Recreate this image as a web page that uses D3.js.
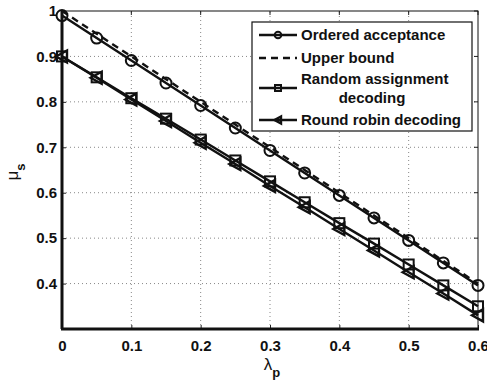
<!DOCTYPE html>
<html lang="en">
<head>
<meta charset="UTF-8">
<title>mu_s vs lambda_p</title>
<style>
    body { margin: 0; background: #fff; }
    svg text { font-family: "Liberation Sans", Arial, sans-serif; font-weight: bold; fill: #111; }
</style>
</head>
<body>
<div id="chart"></div>
<script src="https://cdnjs.cloudflare.com/ajax/libs/d3/7.8.5/d3.min.js"></script>
<script>
// data
const lambdaP = [0, 0.05, 0.1, 0.15, 0.2, 0.25, 0.3, 0.35, 0.4, 0.45, 0.5, 0.55, 0.6];
const orderedAcceptance = [0.99, 0.9405, 0.891, 0.8415, 0.792, 0.7425, 0.693, 0.6435, 0.594, 0.5445, 0.495, 0.4455, 0.396];
const upperBound = [1.0, 0.95, 0.9, 0.85, 0.8, 0.75, 0.7, 0.65, 0.6, 0.55, 0.5, 0.45, 0.4];
const randomAssignment = [0.9, 0.854, 0.808, 0.763, 0.717, 0.671, 0.625, 0.579, 0.533, 0.488, 0.442, 0.396, 0.35];
const roundRobin = [0.9, 0.853, 0.805, 0.758, 0.71, 0.663, 0.615, 0.568, 0.52, 0.473, 0.425, 0.378, 0.33];
const xTicks = [0, 0.1, 0.2, 0.3, 0.4, 0.5, 0.6];
const yTicks = [0.4, 0.5, 0.6, 0.7, 0.8, 0.9, 1];

const W = 487, H = 382;
const m = { left: 62, right: 9, top: 11, bottom: 53 };

const svg = d3.select('#chart').append('svg')
    .attr('width', W).attr('height', H);

const x = d3.scaleLinear().domain([0, 0.6]).range([m.left, W - m.right]);
const y = d3.scaleLinear().domain([0.3, 1]).range([H - m.bottom, m.top]);

// dotted grid
const grid = svg.append('g').attr('stroke', '#888').attr('stroke-width', 1).attr('stroke-dasharray', '1,3');
grid.selectAll('.gx').data(xTicks.slice(1, -1)).enter().append('line')
    .attr('x1', d => x(d)).attr('x2', d => x(d))
    .attr('y1', y(0.3)).attr('y2', y(1));
grid.selectAll('.gy').data(yTicks.slice(0, -1)).enter().append('line')
    .attr('x1', x(0)).attr('x2', x(0.6))
    .attr('y1', d => y(d)).attr('y2', d => y(d));

// axes (ticks inside, box around)
const xAxis = d3.axisBottom(x).tickValues(xTicks).tickSizeInner(-4).tickSizeOuter(0).tickPadding(11)
    .tickFormat(d => d === 0 ? '0' : d3.format('.1f')(d));
const yAxis = d3.axisLeft(y).tickValues(yTicks).tickSizeInner(-4).tickSizeOuter(0).tickPadding(5)
    .tickFormat(d => d === 1 ? '1' : d3.format('.1f')(d));

const gx = svg.append('g').attr('transform', `translate(0,${y(0.3)})`).call(xAxis);
const gy = svg.append('g').attr('transform', `translate(${x(0)},0)`).call(yAxis);
[gx, gy].forEach(g => {
    g.select('.domain').remove();
    g.selectAll('text').style('font-size', '15px').attr('fill', '#111');
    g.selectAll('line').attr('stroke', '#222');
});
gx.selectAll('text').attr('dy', '0.71em');

// top/right ticks
svg.append('g').selectAll('line').data(xTicks).enter().append('line')
    .attr('x1', d => x(d)).attr('x2', d => x(d)).attr('y1', y(1)).attr('y2', y(1) + 4)
    .attr('stroke', '#222');
svg.append('g').selectAll('line').data(yTicks).enter().append('line')
    .attr('x1', x(0.6)).attr('x2', x(0.6) - 4).attr('y1', d => y(d)).attr('y2', d => y(d))
    .attr('stroke', '#222');

// box
svg.append('rect').attr('x', x(0)).attr('y', y(1))
    .attr('width', x(0.6) - x(0)).attr('height', y(0.3) - y(1))
    .attr('fill', 'none').attr('stroke', '#111').attr('stroke-width', 1);
svg.append('line').attr('x1', x(0) - 1).attr('x2', x(0.6) + 1).attr('y1', y(0.3)).attr('y2', y(0.3))
    .attr('stroke', '#111').attr('stroke-width', 3);
svg.append('line').attr('x1', x(0)).attr('x2', x(0)).attr('y1', y(0.3)).attr('y2', y(1))
    .attr('stroke', '#111').attr('stroke-width', 3);

// markers
function marker(g, type, cx, cy, k) {
    k = k || 1;
    if (type === 'circle') {
        g.append('circle').attr('cx', cx).attr('cy', cy).attr('r', 5.5 * k)
            .attr('fill', 'none').attr('stroke', '#111').attr('stroke-width', 2);
    } else if (type === 'square') {
        g.append('rect').attr('x', cx - 5 * k).attr('y', cy - 5 * k).attr('width', 10 * k).attr('height', 10 * k)
            .attr('fill', 'none').attr('stroke', '#111').attr('stroke-width', 2);
    } else if (type === 'tri') {
        g.append('path').attr('d', `M${cx - 6 * k},${cy} L${cx + 5 * k},${cy - 6 * k} L${cx + 5 * k},${cy + 6 * k} Z`)
            .attr('fill', 'none').attr('stroke', '#111').attr('stroke-width', 2.4);
    }
}

const series = [
    { name: 'Ordered acceptance', values: orderedAcceptance, dash: null, mark: 'circle' },
    { name: 'Upper bound', values: upperBound, dash: '7,5', mark: null },
    { name: 'Random assignment', values: randomAssignment, dash: null, mark: 'square' },
    { name: 'Round robin decoding', values: roundRobin, dash: null, mark: 'tri' }
];

const line = d3.line().x(d => x(d[0])).y(d => y(d[1]));
const plot = svg.append('g');
series.forEach(s => {
    const pts = lambdaP.map((l, i) => [l, s.values[i]]);
    plot.append('path').datum(pts).attr('d', line)
        .attr('fill', 'none').attr('stroke', '#111').attr('stroke-width', 2.4)
        .attr('stroke-dasharray', s.dash);
    if (s.mark) {
        const mg = plot.append('g');
        pts.forEach(p => marker(mg, s.mark, x(p[0]), y(p[1])));
    }
});

// legend
const lg = svg.append('g');
lg.append('rect').attr('x', 252).attr('y', 22).attr('width', 220).attr('height', 109)
    .attr('fill', '#fff').attr('stroke', '#111').attr('stroke-width', 1.2);
const rows = [
    { s: series[0], y: 35, lines: ['Ordered acceptance'] },
    { s: series[1], y: 58, lines: ['Upper bound'] },
    { s: series[2], y: 88, lines: ['Random assignment', 'decoding'] },
    { s: series[3], y: 120, lines: ['Round robin decoding'] }
];
rows.forEach(r => {
    lg.append('line').attr('x1', 259).attr('x2', 297).attr('y1', r.y).attr('y2', r.y)
        .attr('stroke', '#111').attr('stroke-width', 2.4).attr('stroke-dasharray', r.s.dash);
    if (r.s.mark) {
        const mg = lg.append('g');
        marker(mg, r.s.mark, 278, r.y, 0.6);
    }
    if (r.lines.length === 1) {
        lg.append('text').attr('x', 301).attr('y', r.y).attr('dy', '0.36em')
            .style('font-size', '15px').text(r.lines[0]);
    } else {
        lg.append('text').attr('x', 301).attr('y', r.y - 9).attr('dy', '0.36em')
            .style('font-size', '15px').text(r.lines[0]);
        lg.append('text').attr('x', 372).attr('y', r.y + 10).attr('dy', '0.36em')
            .attr('text-anchor', 'middle').style('font-size', '15px').text(r.lines[1]);
    }
});

// axis labels
const xl = svg.append('text').attr('x', 272).attr('y', 370).attr('text-anchor', 'middle')
    .style('font-size', '17px').style('font-weight', 'normal');
xl.append('tspan').text('λ');
xl.append('tspan').attr('dy', 7).style('font-size', '13px').style('font-weight', 'bold').text('p');

const yl = svg.append('text').attr('transform', 'translate(18,172) rotate(-90)').attr('text-anchor', 'middle')
    .style('font-size', '17px').style('font-weight', 'normal');
yl.append('tspan').text('μ');
yl.append('tspan').attr('dy', 7).style('font-size', '13px').style('font-weight', 'bold').text('s');
</script>
</body>
</html>
